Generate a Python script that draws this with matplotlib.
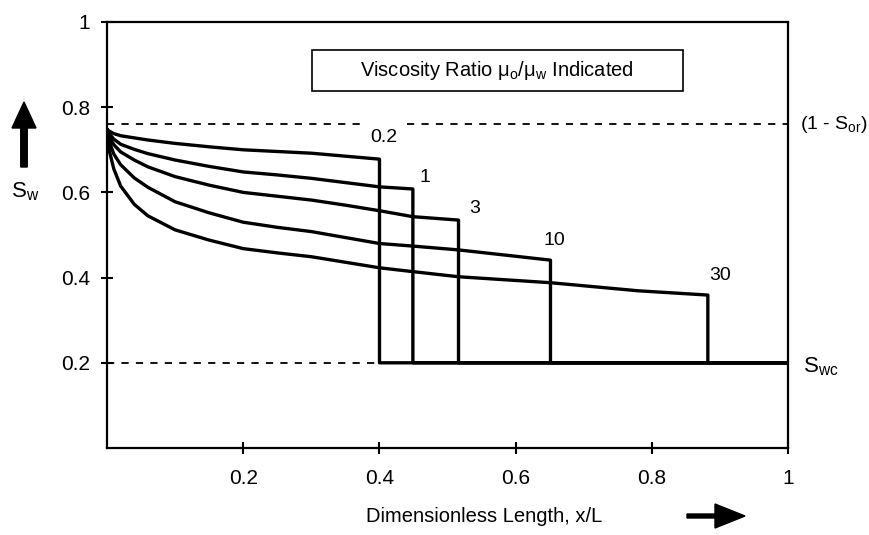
import matplotlib
matplotlib.use("Agg")
import matplotlib.pyplot as plt
from matplotlib.patches import Rectangle, FancyArrow

plt.rcParams['font.family'] = ['Liberation Sans', 'DejaVu Sans']
plt.rcParams['mathtext.fontset'] = 'custom'
plt.rcParams['mathtext.rm'] = 'Liberation Sans'
plt.rcParams['mathtext.it'] = 'Liberation Sans'

# ---- data ----
ratio_labels = ["0.2", "1", "3", "10", "30"]
x_grid = [0.0, 0.003, 0.01, 0.02, 0.04, 0.06, 0.10, 0.15, 0.20, 0.25, 0.30, 0.35, 0.40,
          0.449, 0.516, 0.651, 0.78, 0.882]
front_x = [0.40, 0.449, 0.516, 0.651, 0.882]
sw_r02 = [0.748, 0.744, 0.738, 0.733, 0.728, 0.723, 0.715, 0.707, 0.700, 0.696, 0.692, 0.685, 0.678]
sw_r1 = [0.748, 0.738, 0.725, 0.713, 0.701, 0.691, 0.676, 0.661, 0.648, 0.641, 0.633, 0.623, 0.613,
         0.608]
sw_r3 = [0.748, 0.730, 0.712, 0.695, 0.676, 0.660, 0.637, 0.617, 0.600, 0.591, 0.582, 0.570, 0.557,
         0.543, 0.535]
sw_r10 = [0.748, 0.720, 0.690, 0.665, 0.634, 0.612, 0.578, 0.552, 0.530, 0.518, 0.508, 0.494, 0.480,
          0.474, 0.465, 0.441]
sw_r30 = [0.748, 0.700, 0.655, 0.615, 0.572, 0.545, 0.512, 0.488, 0.468, 0.458, 0.449, 0.436, 0.423,
          0.414, 0.402, 0.388, 0.369, 0.359]
series = [sw_r02, sw_r1, sw_r3, sw_r10, sw_r30]
label_pos = [(0.407, 0.730), (0.467, 0.636), (0.540, 0.562), (0.656, 0.488), (0.900, 0.404)]
sw_one_minus_sor = 0.76
sw_wc = 0.2
ticks = [0.2, 0.4, 0.6, 0.8, 1.0]
tick_labels = ["0.2", "0.4", "0.6", "0.8", "1"]

fig = plt.figure(figsize=(8.7, 5.35), dpi=100)
ax = fig.add_axes([0.123, 0.1626, 0.783, 0.7963])
ax.set_xlim(0, 1)
ax.set_ylim(0, 1)

# dashed reference lines
dash = dict(color='black', lw=1.3, ls=(0, (4, 4)))
ax.plot([0, 0.379], [sw_one_minus_sor] * 2, **dash)
ax.plot([0.44, 1.0], [sw_one_minus_sor] * 2, **dash)
ax.plot([0, 0.40], [sw_wc] * 2, **dash)

# saturation profiles
for xf, sw in zip(front_x, series):
    xs = x_grid[:len(sw)] + [xf, 1.0]
    ys = sw + [sw_wc, sw_wc]
    ax.plot(xs, ys, color='black', lw=2.4, solid_joinstyle='round', solid_capstyle='round')

for lab, (lx, ly) in zip(ratio_labels, label_pos):
    ax.text(lx, ly, lab, ha='center', va='center', fontsize=14)

# info box
ax.add_patch(Rectangle((0.301, 0.838), 0.545, 0.096, fill=False, lw=1.2, ec='black'))
ax.text(0.573, 0.886, r"Viscosity Ratio $\mathregular{\mu_o/\mu_w}$ Indicated",
        ha='center', va='center', fontsize=14.5)

ax.text(1.018, sw_one_minus_sor, r"(1 - S$_\mathregular{or}$)", ha='left', va='center',
        fontsize=14, clip_on=False)
ax.text(1.022, 0.19, r"S$_\mathregular{wc}$", ha='left', va='center', fontsize=16, clip_on=False)

ax.set_xticks(ticks)
ax.set_xticklabels(tick_labels)
ax.set_yticks(ticks)
ax.set_yticklabels(tick_labels)
ax.tick_params(direction='inout', length=8, width=1.5, labelsize=15)
ax.tick_params(axis='x', pad=11)
ax.tick_params(axis='y', pad=8)
ax.tick_params(axis='x', which='both', top=False)
ax.tick_params(axis='y', which='both', right=False)
for s in ax.spines.values():
    s.set_linewidth(1.6)

# axis labels and arrows
fig.text(0.556, 0.034, "Dimensionless Length, x/L", ha='center', va='center', fontsize=14.5)
fig.text(0.029, 0.641, r"S$_\mathregular{w}$", ha='center', va='center', fontsize=16)
fig.patches.append(FancyArrow(
    24 / 870, 1 - 167 / 535, 0, (167 - 102) / 535, width=4 / 535, head_width=24 / 870,
    head_length=26 / 535, length_includes_head=True, color='black', transform=fig.transFigure, figure=fig))
fig.patches.append(FancyArrow(
    687 / 870, 1 - 516 / 535, (745 - 687) / 870, 0, width=4 / 535, head_width=24 / 535,
    head_length=30 / 870, length_includes_head=True, color='black', transform=fig.transFigure, figure=fig))

fig.savefig("out.png", dpi=100)
